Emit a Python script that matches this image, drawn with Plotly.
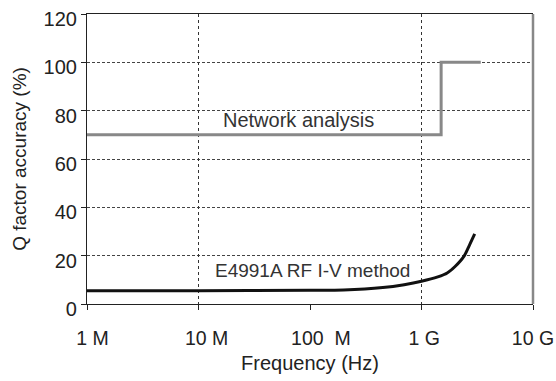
import plotly.graph_objects as go

# Data
x_tick_vals = [1e6, 1e7, 1e8, 1e9, 1e10]
x_tick_text = ["\u00a0\u00a01 M", "\u00a0\u00a0\u00a010 M", "\u00a0\u00a0\u00a0\u00a0100\u00a0 M", "\u00a01 G", "10 G"]
x_grid_vals = [1e7, 1e9]
y_tick_vals = [0, 20, 40, 60, 80, 100, 120]

net_freq = [1e6, 1.5e9, 3.4e9]
net_q = [70, 100, 100]

rfiv_freq = [1e6, 1e7, 1e8, 2e8, 4.5e8, 7e8, 1e9, 1.4e9, 1.7e9, 2e9, 2.4e9, 2.7e9, 3e9]
rfiv_q = [5.5, 5.5, 5.7, 5.8, 6.8, 8.0, 9.4, 11.2, 12.8, 15.5, 19.7, 24.5, 29.0]

label_font = "Liberation Sans, Arial, sans-serif"
text_font = "Liberation Sans, Arial, sans-serif"

fig = go.Figure()
fig.add_trace(go.Scatter(x=net_freq, y=net_q, mode="lines", line=dict(color="#888888", width=3, shape="hv"),
                         showlegend=False, hoverinfo="skip"))
fig.add_trace(go.Scatter(x=rfiv_freq, y=rfiv_q, mode="lines", line=dict(color="#111111", width=3, shape="spline", smoothing=0.8),
                         showlegend=False, hoverinfo="skip"))
# invisible trace on the grid axis
fig.add_trace(go.Scatter(x=[x_tick_vals[0]], y=[0], xaxis="x2", mode="markers", marker=dict(opacity=0),
                         showlegend=False, hoverinfo="skip"))

fig.add_annotation(x=7.893, y=76, xref="x", yref="y", text="Network analysis", showarrow=False,
                   yanchor="middle", font=dict(family=text_font, size=20, color="#333333"))
fig.add_annotation(x=8.02, y=13.9, xref="x", yref="y", text="E4991A RF I-V method", showarrow=False,
                   yanchor="middle", font=dict(family=text_font, size=19, color="#333333"))

fig.update_layout(
    width=556, height=381,
    margin=dict(l=87, r=23, t=14, b=77, autoexpand=False),
    paper_bgcolor="white", plot_bgcolor="white",
    xaxis=dict(type="log", range=[6, 10], tickmode="array", tickvals=x_tick_vals, ticktext=x_tick_text,
               showgrid=False, zeroline=False, showline=True, linecolor="#222222", linewidth=1.2, mirror=True,
               ticks="outside", ticklen=5, tickcolor="#222222", tickfont=dict(family=label_font, size=19.5, color="#222222"),
               ticklabelstandoff=11, ticklabeloverflow="allow", automargin=False,
               title=dict(text="Frequency (Hz)", font=dict(family=label_font, size=20, color="#222222"), standoff=8)),
    xaxis2=dict(type="log", range=[6, 10], overlaying="x", tickmode="array", tickvals=x_grid_vals,
                showticklabels=False, ticks="", showgrid=True, griddash="dot", gridcolor="#333333", gridwidth=1,
                showline=False, zeroline=False, automargin=False),
    yaxis=dict(range=[0, 120], tickmode="array", tickvals=y_tick_vals, showgrid=True, griddash="3px,2px",
               gridcolor="#444444", gridwidth=1, zeroline=False, showline=True, linecolor="#222222", linewidth=1.2,
               ticks="outside", ticklen=5, tickcolor="#222222", automargin=False, ticklabeloverflow="allow",
               tickfont=dict(family=label_font, size=20, color="#222222"), ticklabelshift=5,
               title=dict(text="Q factor accuracy (%)", font=dict(family=text_font, size=19, color="#222222"), standoff=11)),
)
fig.add_shape(type="line", xref="paper", yref="paper", x0=1, x1=1, y0=0, y1=1, line=dict(color="#888888", width=2.5))

fig.write_html("out.html")
